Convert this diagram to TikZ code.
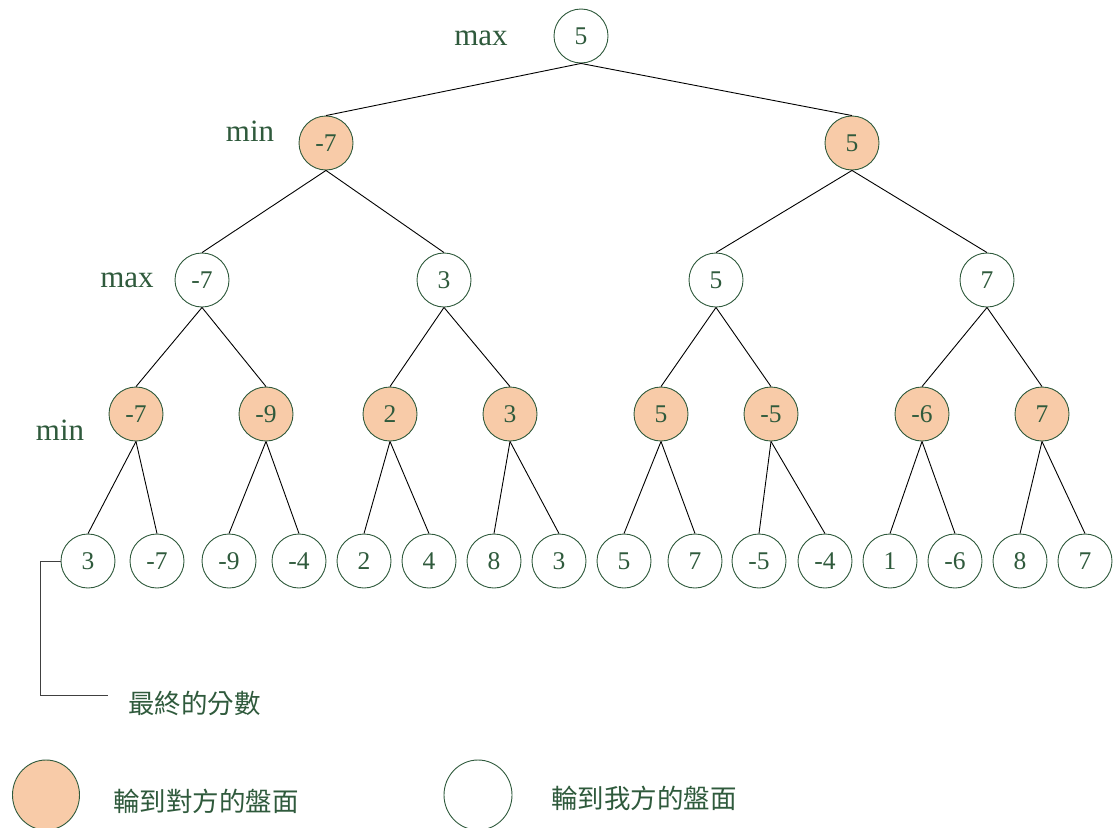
\documentclass[tikz,border=0pt]{standalone}
\usepackage{fontspec}
\usetikzlibrary{shapes.geometric}
\setmainfont{Liberation Serif}
\newfontfamily\cjk{Noto Sans CJK TC}
\begin{document}
\definecolor{inkgreen}{HTML}{2F5A3C}
\definecolor{peach}{HTML}{F8CBA8}
\begin{tikzpicture}[x=1pt,y=-1pt,
  boardpos/.style={circle,draw=inkgreen,line width=0.9pt,minimum size=54pt,inner sep=0pt,
    text=inkgreen,font=\fontsize{25.5}{25.5}\selectfont},
  mine/.style={boardpos,fill=white},
  theirs/.style={boardpos,fill=peach},
  plylabel/.style={text=inkgreen,font=\fontsize{31}{31}\selectfont,inner sep=0pt},
  note/.style={text=inkgreen,font=\cjk\fontsize{26.5}{26.5}\selectfont,inner sep=0pt},
  treeline/.style={draw=black,line width=0.9pt}]
\useasboundingbox (0,0) rectangle (1113,827);

% ply labels
\node[plylabel] (l0) at (481,38) {max};
\node[plylabel] (l1) at (250,131) {min};
\node[plylabel] (l2) at (127,280) {max};
\node[plylabel] (l3) at (60,430) {min};

% root
\node[mine] (r) at (581,36) {5};
% ply 1
\node[theirs] (a) at (326,143) {-7};
\node[theirs] (b) at (852,143) {5};
% ply 2
\node[mine] (aa) at (202,280) {-7};
\node[mine] (ab) at (444,280) {3};
\node[mine] (ba) at (716,280) {5};
\node[mine] (bb) at (987,280) {7};
% ply 3
\node[theirs] (aaa) at (136,414) {-7};
\node[theirs] (aab) at (266,414) {-9};
\node[theirs] (aba) at (390,414) {2};
\node[theirs] (abb) at (510,414) {3};
\node[theirs] (baa) at (661,414) {5};
\node[theirs] (bab) at (771,414) {-5};
\node[theirs] (bba) at (922,414) {-6};
\node[theirs] (bbb) at (1042,414) {7};
% leaves
\node[mine] (f1) at (88,561) {3};
\node[mine] (f2) at (157,561) {-7};
\node[mine] (f3) at (229,561) {-9};
\node[mine] (f4) at (299,561) {-4};
\node[mine] (f5) at (364,561) {2};
\node[mine] (f6) at (429,561) {4};
\node[mine] (f7) at (494,561) {8};
\node[mine] (f8) at (559,561) {3};
\node[mine] (f9) at (624,561) {5};
\node[mine] (f10) at (695,561) {7};
\node[mine] (f11) at (759,561) {-5};
\node[mine] (f12) at (825,561) {-4};
\node[mine] (f13) at (890,561) {1};
\node[mine] (f14) at (955,561) {-6};
\node[mine] (f15) at (1020,561) {8};
\node[mine] (f16) at (1085,561) {7};

% tree edges
\foreach \p/\c in {r/a,r/b,a/aa,a/ab,b/ba,b/bb,
  aa/aaa,aa/aab,ab/aba,ab/abb,ba/baa,ba/bab,bb/bba,bb/bbb,
  aaa/f1,aaa/f2,aab/f3,aab/f4,aba/f5,aba/f6,abb/f7,abb/f8,
  baa/f9,baa/f10,bab/f11,bab/f12,bba/f13,bba/f14,bbb/f15,bbb/f16}
  \draw[treeline] (\p.south) -- (\c.north);

% callout for the leaf scores
\node[note,anchor=west] (score) at (128,703) {最終的分數};
\coordinate (k1) at (40,561);
\coordinate (k2) at (40,695);
\coordinate (k3) at (108,695);
\draw[draw=black!75,line width=0.9pt] (f1.west) -- (k1) -- (k2) -- (k3);

% legend
\node[theirs,ellipse,minimum width=67pt,minimum height=70pt] (legA) at (46,795) {};
\node[note,anchor=west] (legAt) at (113,801) {輪到對方的盤面};
\node[mine,ellipse,minimum width=68pt,minimum height=70pt] (legB) at (478,795) {};
\node[note,anchor=west] (legBt) at (551,798) {輪到我方的盤面};
\end{tikzpicture}
\end{document}
